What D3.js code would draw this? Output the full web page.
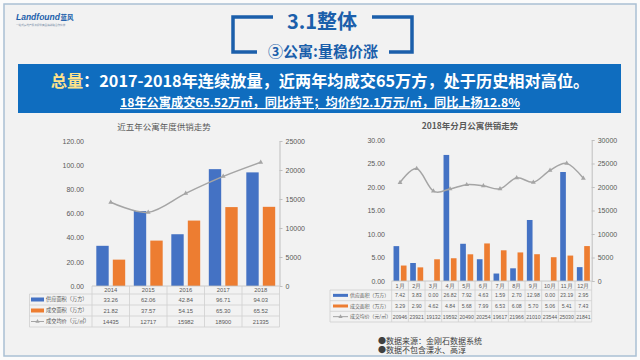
<!DOCTYPE html>
<html><head><meta charset="utf-8">
<script src="https://cdn.jsdelivr.net/npm/d3@7/dist/d3.min.js"></script>
<style>
html,body{margin:0;padding:0;background:#fbfbfb;}
svg{display:block;font-family:"Noto Sans CJK SC","Noto Sans",sans-serif;}
</style></head>
<body><svg id="c" width="640" height="360"></svg>
<script>
// ---- data ----
const years = ["2014","2015","2016","2017","2018"];
const yearSupply = [33.26, 62.06, 42.84, 96.71, 94.03];
const yearSales = [21.82, 37.57, 54.15, 65.30, 65.52];
const yearPrice = [14435, 12717, 15982, 18900, 21335];
const yearLeftTicks = [0, 20, 40, 60, 80, 100, 120];
const yearRightTicks = [0, 5000, 10000, 15000, 20000, 25000];

const months = ["1月","2月","3月","4月","5月","6月","7月","8月","9月","10月","11月","12月"];
const monthSupply = [7.42, 3.83, 0.00, 26.82, 7.92, 4.63, 1.59, 2.70, 12.98, 0.00, 23.19, 2.95];
const monthSales = [3.29, 2.90, 4.62, 4.84, 5.68, 7.99, 6.53, 6.08, 5.70, 5.06, 5.41, 7.43];
const monthPrice = [20946, 23921, 19132, 19592, 20490, 20254, 19617, 21966, 21010, 23544, 25030, 21841];
const monthLeftTicks = [0, 5, 10, 15, 20, 25, 30];
const monthRightTicks = [0, 5000, 10000, 15000, 20000, 25000, 30000];

const seriesNames = ["供应面积（万方）", "成交面积（万方）", "成交均价（元/㎡）"];
const titleMain = "3.1整体";
const titleSub = "③公寓:量稳价涨";
const bannerKey = "总量";
const bannerLine1 = "：2017-2018年连续放量，近两年均成交65万方，处于历史相对高位。";
const bannerLine2 = "18年公寓成交65.52万㎡，同比持平；均价约2.1万元/㎡，同比上扬12.8%";
const chartTitles = ["近五年公寓年度供销走势", "2018年分月公寓供销走势"];
const notes = ["●数据来源：金刚石数据系统", "●数据不包含溧水、高淳"];

const BLUE = "#4472c4", ORANGE = "#ed7d31", GRAY = "#a5a5a5", TXT = "#595959";
const DARK = "#1b5fab";
const NUMFONT = "Liberation Sans, Arial, sans-serif";

const svg = d3.select("#c");
// background & frame
svg.append("rect").attr("x",4).attr("y",4).attr("width",632).attr("height",352)
  .attr("fill","#f2f2f2").attr("stroke","#aac0d4").attr("stroke-width",1.5);

// logo
const lg = svg.append("text").attr("x",16).attr("y",20).attr("font-size",8.5).attr("font-style","italic")
  .attr("font-weight","bold").attr("fill",DARK).attr("font-family",NUMFONT).text("Landfound");
const lw = lg.node().getComputedTextLength();
svg.append("text").attr("x",16+lw+0.5).attr("y",20).attr("font-size",6.5).attr("font-weight","bold").attr("fill",DARK).text("蓝风");
svg.append("text").attr("x",16).attr("y",26).attr("font-size",2.6).attr("fill","#7a8fa8").text("一站式房地产服务提供商品牌战略合作伙伴");

// bracket title
const br = svg.append("g").attr("fill","none").attr("stroke",DARK).attr("stroke-width",3.5);
br.append("path").attr("d","M273,17 H233 V52 H257");
br.append("path").attr("d","M372,17 H412 V52 H389");
svg.append("text").attr("x",322).attr("y",29).attr("text-anchor","middle").attr("font-size",20)
  .attr("font-weight","bold").attr("fill",DARK).text(titleMain);
svg.append("text").attr("x",323).attr("y",57).attr("text-anchor","middle").attr("font-size",15)
  .attr("font-weight","bold").attr("fill",DARK).text(titleSub);

// banner
svg.append("rect").attr("x",18).attr("y",64).attr("width",603).attr("height",49).attr("fill","#0f6dbf");
const t1 = svg.append("text").attr("x",320).attr("y",87).attr("text-anchor","middle").attr("font-size",16.2)
  .attr("font-weight","bold").attr("fill","#fff");
t1.append("tspan").attr("fill","#ffe28a").text(bannerKey);
t1.append("tspan").text(bannerLine1);
svg.append("text").attr("x",320).attr("y",107).attr("text-anchor","middle").attr("font-size",12.2)
  .attr("font-weight","bold").attr("fill","#fff").attr("text-decoration","underline").text(bannerLine2);

// generic chart builder
function chart(o){
  const g = svg.append("g");
  const x = d3.scaleBand().domain(o.cats).range([o.x0, o.x1]);
  const yL = d3.scaleLinear().domain([0, d3.max(o.lt)]).range([o.yb, o.yt]);
  const yR = d3.scaleLinear().domain([0, d3.max(o.rt)]).range([o.yb, o.yt]);
  const bw = x.bandwidth()*o.bwf, gap = x.bandwidth()*o.gapf;
  const off = (x.bandwidth() - 2*bw - gap)/2;
  g.append("text").attr("x",o.tx).attr("y",o.ty).attr("text-anchor","middle").attr("font-size",o.tfs)
    .attr("fill",TXT).attr("font-weight",o.tfw).text(o.title);
  // left axis labels
  const la = g.append("g").attr("transform",`translate(${o.lx},0)`)
    .call(d3.axisLeft(yL).tickValues(o.lt).tickFormat(d3.format(".2f")).tickSize(0).tickPadding(0));
  la.select(".domain").remove();
  la.selectAll("text").attr("font-size",7).attr("fill",TXT).attr("font-family",NUMFONT);
  // right axis
  const ra = g.append("g").attr("transform",`translate(${o.x1},0)`)
    .call(d3.axisRight(yR).tickValues(o.rt).tickFormat(d3.format("d")).tickSize(3).tickPadding(3).tickSizeOuter(0));
  ra.select(".domain").attr("stroke","#bfbfbf");
  ra.selectAll("line").attr("stroke","#bfbfbf");
  ra.selectAll("text").attr("font-size",7).attr("fill",TXT).attr("font-family",NUMFONT);
  // bars
  g.selectAll(".b1").data(o.s1).join("rect").attr("fill",BLUE)
    .attr("x",(d,i)=>x(o.cats[i])+off).attr("width",bw)
    .attr("y",d=>yL(d)).attr("height",d=>yL(0)-yL(d));
  g.selectAll(".b2").data(o.s2).join("rect").attr("fill",ORANGE)
    .attr("x",(d,i)=>x(o.cats[i])+off+bw+gap).attr("width",bw)
    .attr("y",d=>yL(d)).attr("height",d=>yL(0)-yL(d));
  // line
  const cx = (i)=>x(o.cats[i])+x.bandwidth()/2;
  g.append("path").datum(o.s3).attr("fill","none").attr("stroke",GRAY).attr("stroke-width",1.5)
    .attr("d", d3.line().x((d,i)=>cx(i)).y(d=>yR(d)).curve(d3.curveCatmullRom.alpha(0)));
  g.selectAll(".m").data(o.s3).join("path").attr("fill",GRAY)
    .attr("transform",(d,i)=>`translate(${cx(i)},${yR(d)})`)
    .attr("d", d3.symbol(d3.symbolTriangle, 10));
  // table
  const tb = g.append("g").attr("stroke","#cfcfcf").attr("stroke-width",0.8).attr("fill","none");
  const rows = o.rows;
  tb.append("line").attr("x1",o.x0).attr("x2",o.x1).attr("y1",rows[0]).attr("y2",rows[0]).attr("stroke","#bfbfbf");
  for(let k=1;k<rows.length;k++){
    tb.append("line").attr("x1",o.tl).attr("x2",o.x1).attr("y1",rows[k]).attr("y2",rows[k]);
  }
  tb.append("line").attr("x1",o.tl).attr("x2",o.tl).attr("y1",rows[1]).attr("y2",rows[4]);
  const edges = o.cats.map(c=>x(c)).concat([o.x1]);
  edges.forEach(e=>tb.append("line").attr("x1",e).attr("x2",e).attr("y1",rows[0]).attr("y2",rows[4]));
  o.cats.forEach((c,i)=>{
    g.append("text").attr("x",cx(i)).attr("y",(rows[0]+rows[1])/2+2).attr("text-anchor","middle")
      .attr("font-size",o.hfs).attr("fill",TXT).attr("font-family",NUMFONT).text(c);
  });
  const vals = [o.s1.map(d=>d.toFixed(2)), o.s2.map(d=>d.toFixed(2)), o.s3.map(d=>String(d))];
  vals.forEach((arr,r)=>{
    const ym = (rows[r+1]+rows[r+2])/2;
    arr.forEach((v,i)=>{
      g.append("text").attr("x",cx(i)).attr("y",ym+2).attr("text-anchor","middle")
        .attr("font-size",o.vfs).attr("fill",TXT).attr("font-family",NUMFONT).text(v);
    });
    if(r<2){
      g.append("rect").attr("x",o.tl+o.kx).attr("y",ym-o.kh/2).attr("width",o.kw).attr("height",o.kh)
        .attr("fill",r===0?BLUE:ORANGE);
    } else {
      g.append("line").attr("x1",o.tl+o.kx).attr("x2",o.tl+o.kx+o.kw).attr("y1",ym).attr("y2",ym)
        .attr("stroke",GRAY).attr("stroke-width",1);
      g.append("path").attr("fill",GRAY).attr("transform",`translate(${o.tl+o.kx+o.kw/2},${ym})`)
        .attr("d", d3.symbol(d3.symbolTriangle, 8));
    }
    g.append("text").attr("x",o.tl+o.kx+o.kw+2).attr("y",ym+1.8).attr("font-size",o.lfs)
      .attr("fill",TXT).text(seriesNames[r]);
  });
}

chart({cats:years, s1:yearSupply, s2:yearSales, s3:yearPrice, lt:yearLeftTicks, rt:yearRightTicks,
  x0:92, x1:279.5, yt:141, yb:286, lx:84, bwf:0.33, gapf:0.11,
  title:chartTitles[0], tx:164, ty:130, tfs:8.5, tfw:"normal",
  rows:[286,294,305,316,327], tl:29.5, kx:1.5, kw:13, kh:4, hfs:5.8, vfs:5.8, lfs:5.2});

chart({cats:months, s1:monthSupply, s2:monthSales, s3:monthPrice, lt:monthLeftTicks, rt:monthRightTicks,
  x0:391.7, x1:591.7, yt:140, yb:281, lx:385, bwf:0.34, gapf:0.1,
  title:chartTitles[1], tx:470, ty:129, tfs:8.5, tfw:"bold",
  rows:[281,290,300.7,311.3,322], tl:330, kx:3, kw:15, kh:3, hfs:5.5, vfs:5.2, lfs:4.9});

notes.forEach((n,i)=>{
  svg.append("text").attr("x",378).attr("y",343.5+i*9.5).attr("font-size",8).attr("fill","#404040").text(n);
});
</script>
</body></html>
